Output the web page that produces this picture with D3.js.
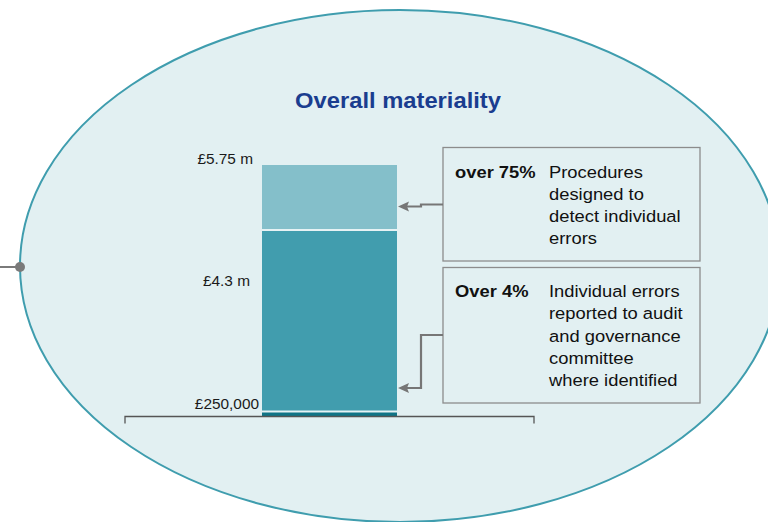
<!DOCTYPE html>
<html>
<head>
<meta charset="utf-8">
<script src="https://cdn.jsdelivr.net/npm/d3@7"></script>
<style>
  html, body { margin: 0; padding: 0; background: #ffffff; }
  svg { display: block; font-family: "Liberation Sans", Arial, sans-serif; }
</style>
</head>
<body>
<svg id="chart" width="768" height="522"></svg>
<script>
// Materiality thresholds (£m), bottom to top
const thresholdLabels = ["£250,000", "£4.3 m", "£5.75 m"];
const thresholdValues = [0.25, 4.3, 5.75];
const segmentColors = ["#0f7486", "#419dae", "#84bfca"];

// Explanatory notes attached to the bar
const noteHeads = ["over 75%", "Over 4%"];
const noteLines = [
  ["Procedures", "designed to", "detect individual", "errors"],
  ["Individual errors", "reported to audit", "and governance", "committee", "where identified"]
];

const title = "Overall materiality";

const svg = d3.select("#chart");

// Places a text at (x, y) with a slight horizontal widening of the glyphs
function placeText(sel, x, y, sx) {
  return sel.attr("x", 0).attr("y", 0)
    .attr("transform", (d, i) => {
      const px = typeof x === "function" ? x(d, i) : x;
      const py = typeof y === "function" ? y(d, i) : y;
      return `translate(${px},${py}) scale(${sx},1)`;
    });
}

// Background ellipse with a connector dot on its left edge
svg.append("ellipse")
  .attr("cx", 400).attr("cy", 266)
  .attr("rx", 380).attr("ry", 256)
  .attr("fill", "#e2f0f2")
  .attr("stroke", "#3f9dae")
  .attr("stroke-width", 2);

svg.append("line")
  .attr("x1", 0).attr("x2", 20).attr("y1", 267).attr("y2", 267)
  .attr("stroke", "#7a7a7a").attr("stroke-width", 2);
svg.append("circle")
  .attr("cx", 20).attr("cy", 267).attr("r", 5)
  .attr("fill", "#7a7a7a");

// Title
placeText(svg.append("text"), 398, 108, 1.08)
  .attr("text-anchor", "middle")
  .attr("font-size", 22).attr("font-weight", "bold")
  .attr("fill", "#1a3d8f")
  .text(title);

// Scales
const x = d3.scaleBand().domain(["materiality"]).range([125, 535]);
const y = d3.scaleLinear().domain([0.15, 5.75]).range([416, 165]);

const barX = 262, barW = 135;

// Stacked segments built from consecutive thresholds
const segments = thresholdValues.map((v, i) => ({
  lo: i === 0 ? y.domain()[0] : thresholdValues[i - 1],
  hi: v,
  color: segmentColors[i]
}));

svg.append("g").selectAll("rect")
  .data(segments)
  .join("rect")
  .attr("x", barX)
  .attr("width", barW)
  .attr("y", d => y(d.hi))
  .attr("height", d => y(d.lo) - y(d.hi))
  .attr("fill", d => d.color);

// Thin light separators between segments
svg.append("g").selectAll("line")
  .data(thresholdValues.slice(0, -1))
  .join("line")
  .attr("x1", barX).attr("x2", barX + barW)
  .attr("y1", d => y(d)).attr("y2", d => y(d))
  .attr("stroke", "#e6f2f4").attr("stroke-width", 2);

// Baseline axis with end ticks
const axis = d3.axisBottom(x).tickSize(0).tickFormat("");
const gAxis = svg.append("g").attr("transform", "translate(0,416.5)").call(axis);
gAxis.select(".domain").remove();
gAxis.append("path")
  .attr("d", `M125,7V0H534V7`)
  .attr("fill", "none")
  .attr("stroke", "#555555")
  .attr("stroke-width", 1.3);

// Threshold labels to the left of the bar
const labelPos = [
  { x: 259, y: 409 },
  { x: 250, y: y(4.3) + 56 },
  { x: 253, y: y(5.75) - 1 }
];
placeText(
  svg.append("g").selectAll("text").data(thresholdLabels).join("text"),
  (d, i) => labelPos[i].x, (d, i) => labelPos[i].y, 1.1)
  .attr("text-anchor", "end")
  .attr("font-size", 14)
  .attr("fill", "#1a1a1a")
  .text(d => d);

// Note boxes
const boxes = [
  { x: 443, y: 147.5, w: 257, h: 113.5, base: 177.5 },
  { x: 443, y: 267.5, w: 257, h: 135.5, base: 297 }
];
const lineH = 22.3;

boxes.forEach((b, i) => {
  svg.append("rect")
    .attr("x", b.x).attr("y", b.y)
    .attr("width", b.w).attr("height", b.h)
    .attr("fill", "none")
    .attr("stroke", "#8c8c8c").attr("stroke-width", 1.3);

  placeText(svg.append("text"), 455, b.base, 1.08)
    .attr("font-size", 17).attr("font-weight", "bold")
    .attr("fill", "#111")
    .text(noteHeads[i]);

  placeText(
    svg.append("g").selectAll("text").data(noteLines[i]).join("text"),
    549, (d, j) => b.base + j * lineH, 1.08)
    .attr("font-size", 17)
    .attr("fill", "#111")
    .text(d => d);
});

// Elbow arrows from boxes to the bar, each ending in a left-pointing head
const arrowColor = "#767676";
const arrows = [
  [[443, 204.5], [421, 204.5], [421, 206.5], [405, 206.5]],
  [[443, 335], [421, 335], [421, 388], [405, 388]]
];
const gArrows = svg.append("g");
gArrows.selectAll("path.shaft")
  .data(arrows)
  .join("path")
  .attr("class", "shaft")
  .attr("d", d => d3.line()(d))
  .attr("fill", "none")
  .attr("stroke", arrowColor)
  .attr("stroke-width", 2.2);
gArrows.selectAll("path.head")
  .data(arrows)
  .join("path")
  .attr("class", "head")
  .attr("transform", d => {
    const end = d[d.length - 1];
    return `translate(${end[0]},${end[1]})`;
  })
  .attr("d", "M-7,0L4,-5L2,0L4,5Z")
  .attr("fill", arrowColor);
</script>
</body>
</html>
